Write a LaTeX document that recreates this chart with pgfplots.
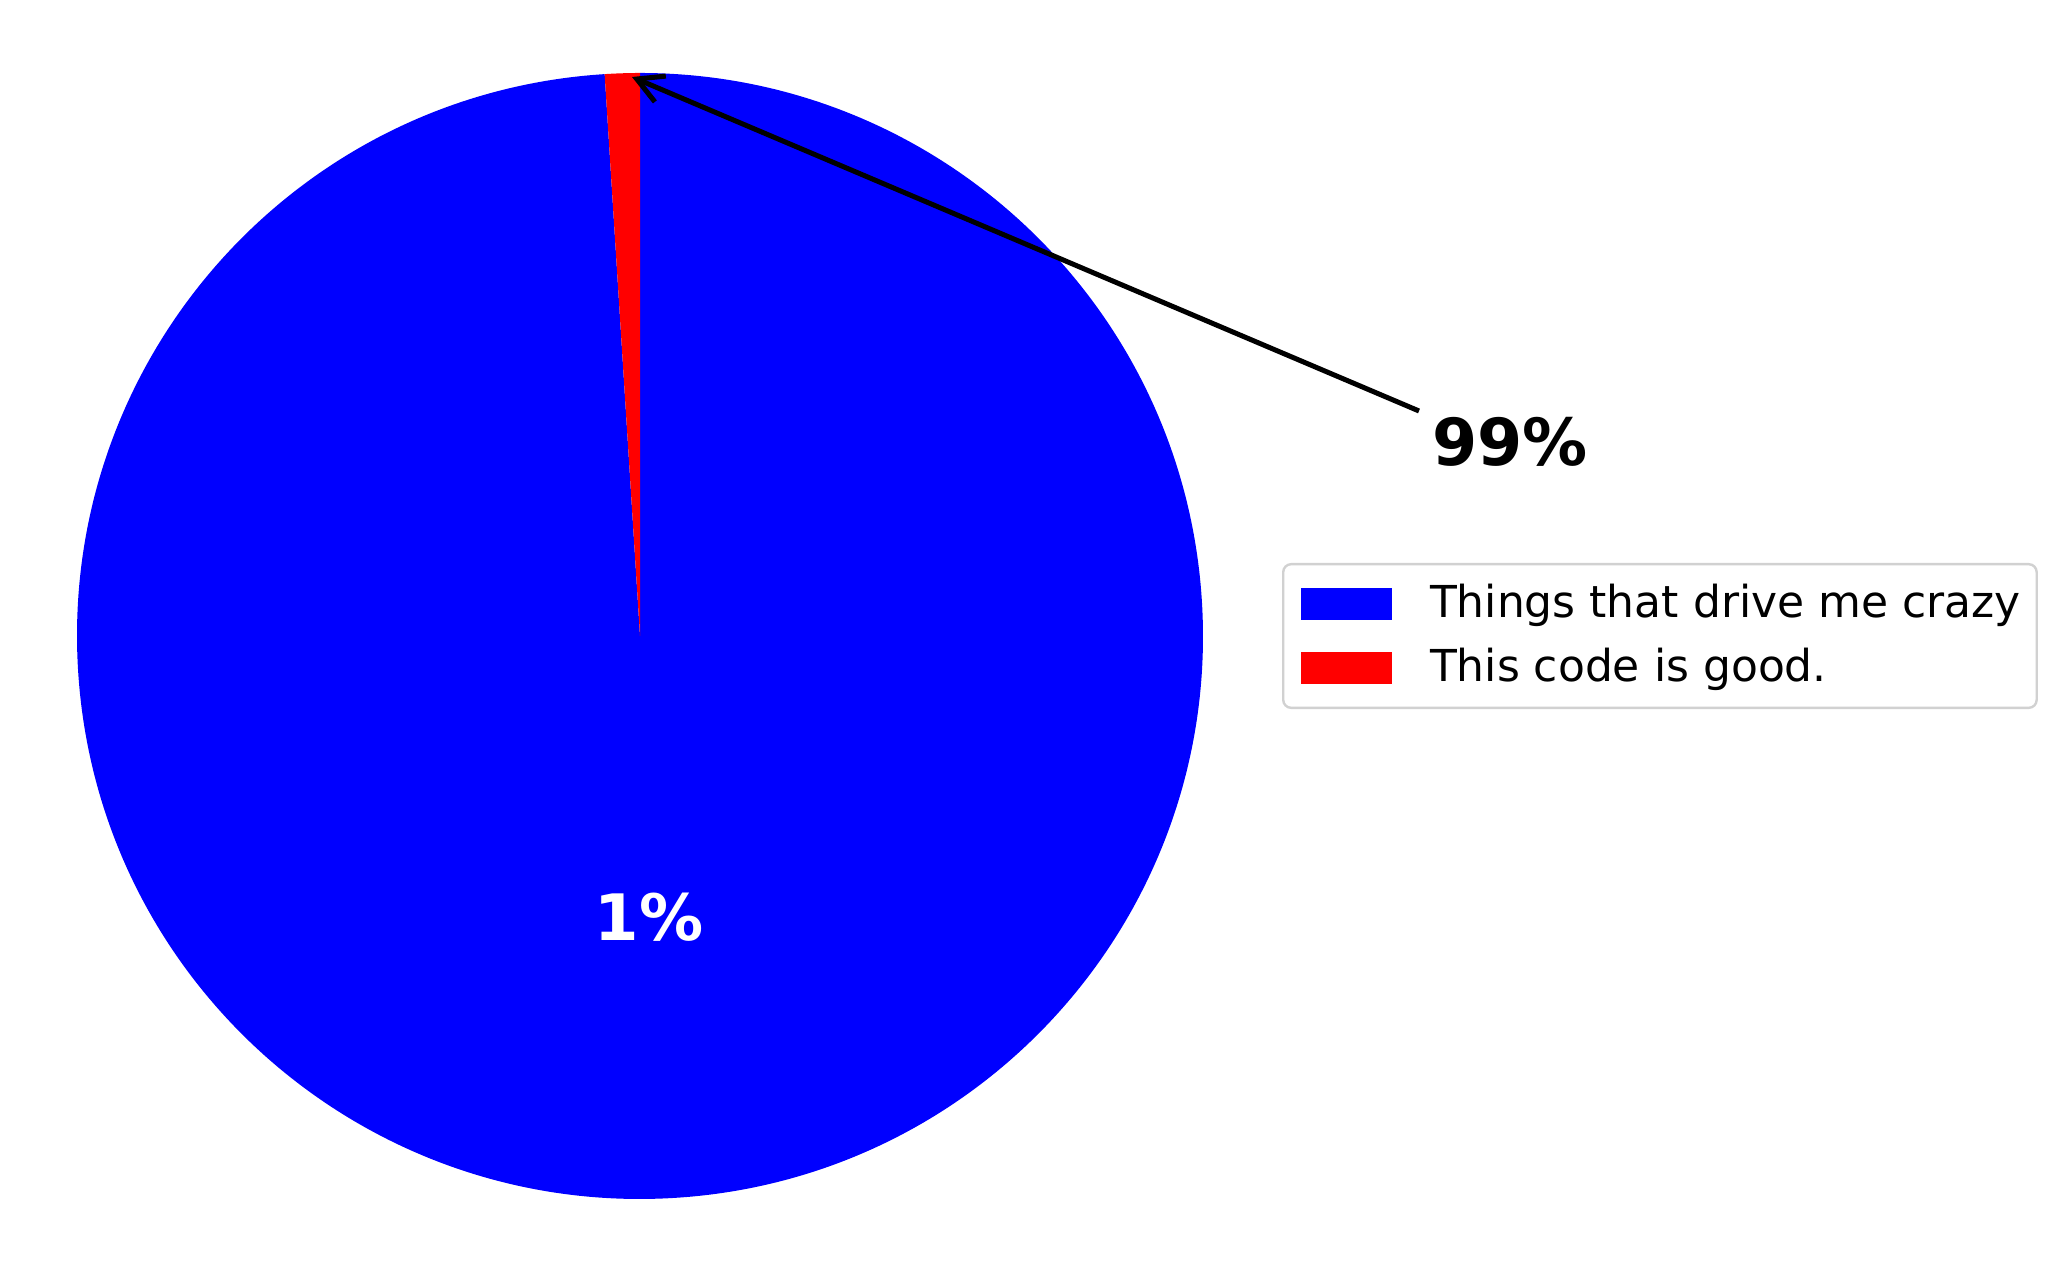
\documentclass[border=0pt]{standalone}
\usepackage{pgfplots}
\pgfplotsset{compat=1.18}
\usepackage{fontspec}
\setmainfont{DejaVu Sans}
\usetikzlibrary{arrows.meta,calc}

% pie values (percent)
\def\valCrazy{99}
\def\valGood{1}

\begin{document}
\begin{tikzpicture}
\pgfmathsetmacro{\angGood}{360*\valGood/(\valCrazy+\valGood)}
\pgfmathsetmacro{\angSplit}{90+\angGood}
\pgfmathsetmacro{\angMidCrazy}{\angSplit+(360-\angGood)/2}
\begin{axis}[
  scale only axis,
  width=514.75pt, height=318pt,
  xmin=0, xmax=2059, ymin=0, ymax=1272,
  hide axis, clip=false,
  legend style={at={(axis cs:1282,709)}, anchor=north west,
    draw=black!18, line width=0.6pt, rounded corners=2pt,
    font=\fontsize{11}{13}\selectfont,
    inner xsep=2pt, inner ysep=3pt, row sep=2.2pt},
  legend cell align=left,
]
% keep the full canvas
\path (axis cs:0,0) rectangle (axis cs:2059,1272);
% wedges (clockwise from the top, as in the original)
\fill[blue] (axis cs:640,636) -- ++(\angSplit:140.75pt)
  arc[start angle=\angSplit, end angle=450, radius=140.75pt] -- cycle;
\fill[red] (axis cs:640,636) -- ++(90:140.75pt)
  arc[start angle=90, end angle=\angSplit, radius=140.75pt] -- cycle;

\addlegendimage{legend image code/.code={\path (-2.5pt,0) (29.6pt,0);\fill[blue,sharp corners] (0pt,-3.7pt) rectangle (22pt,3.7pt);}}
\addlegendentry{Things that drive me crazy}
\addlegendimage{legend image code/.code={\path (-2.5pt,0) (29.6pt,0);\fill[red,sharp corners] (0pt,-3.7pt) rectangle (22pt,3.7pt);}}
\addlegendentry{This code is good.}

% wedge label (placed on the big wedge)
\node[text=white, font=\fontsize{16}{19}\selectfont\bfseries]
  at ($(axis cs:640,636)+(\angMidCrazy:70.4pt)$) {1\%};

% annotation
\draw[line width=1.25pt, -{Straight Barb[length=6.4pt, width=7pt, line width=1.25pt]}]
  (axis cs:1419,861) -- (axis cs:632,1195);
\node[font=\fontsize{16.25}{19}\selectfont\bfseries] at (axis cs:1510,830) {99\%};
\end{axis}
\end{tikzpicture}
\end{document}
